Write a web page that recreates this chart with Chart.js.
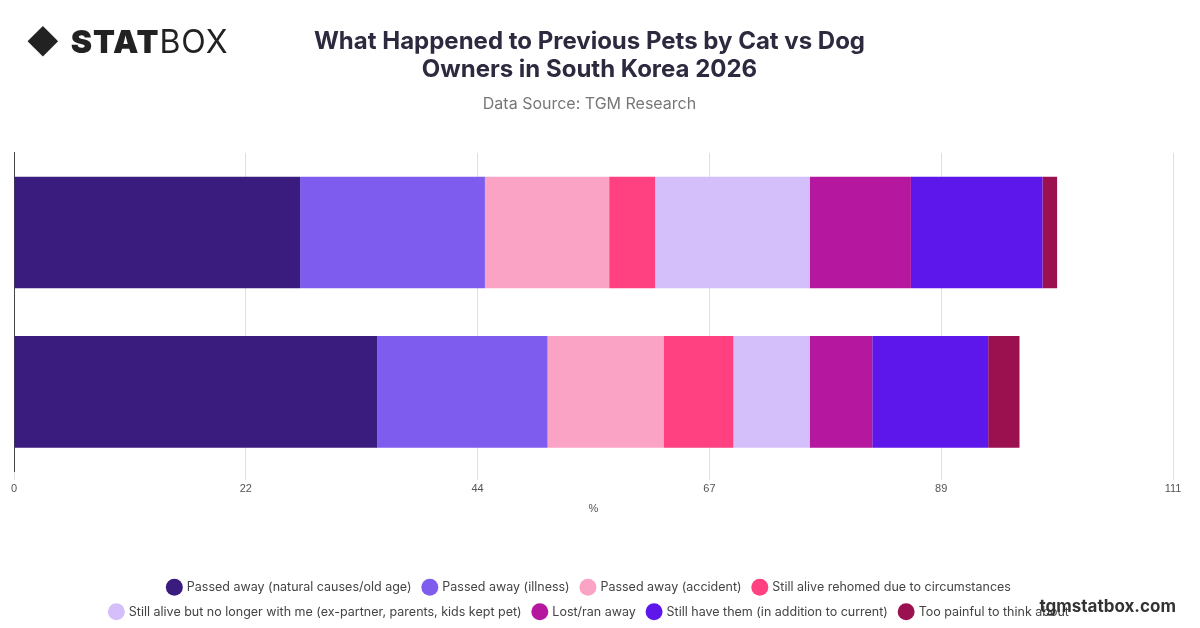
<!DOCTYPE html>
<html>
<head>
<meta charset="utf-8">
<script src="https://cdn.jsdelivr.net/npm/chart.js@4"></script>
<style>
  body { margin: 0; background: #fff; font-family: Inter, "Noto Sans", sans-serif; }
  #wrap { position: relative; width: 1200px; height: 628px; }
  #logo { position: absolute; left: 26px; top: 22px; font-size: 32px; color: #222; letter-spacing: 1px; }
  #logo b { font-weight: 900; }
  #mark { position: absolute; right: 24px; top: 596px; font-size: 17px; font-weight: 700; color: #333; }
</style>
</head>
<body>
<div id="wrap">
  <canvas id="chart" width="1200" height="628"></canvas>
  <div id="logo">&#9670; <b>STAT</b>BOX</div>
  <div id="mark">tgmstatbox.com</div>
</div>
<script>
const categories = ["Cat Owners", "Dog Owners"];
const seriesNames = [
  "Passed away (natural causes/old age)",
  "Passed away (illness)",
  "Passed away (accident)",
  "Still alive rehomed due to circumstances",
  "Still alive but no longer with me (ex-partner, parents, kids kept pet)",
  "Lost/ran away",
  "Still have them (in addition to current)",
  "Too painful to think about"
];
const catValues = [27.4, 17.7, 11.9, 4.4, 14.8, 9.7, 12.6, 1.4];
const dogValues = [34.8, 16.3, 11.1, 6.7, 7.3, 6.0, 11.1, 3.0];
const colors = ["#3a1c7e", "#7e5ced", "#fba3c4", "#ff4081", "#d4bffb", "#b5179e", "#5e17eb", "#9b1150"];
const tickLabels = ["0", "22", "44", "67", "89", "111"];

const datasets = seriesNames.map((name, i) => ({
  label: name,
  data: [catValues[i], dogValues[i]],
  backgroundColor: colors[i],
  borderWidth: 0
}));

new Chart(document.getElementById("chart"), {
  type: "bar",
  data: { labels: categories, datasets: datasets },
  options: {
    indexAxis: "y",
    responsive: false,
    animation: false,
    layout: { padding: { left: 6, right: 27, top: 10, bottom: 0 } },
    datasets: { bar: { barPercentage: 0.7, categoryPercentage: 1 } },
    plugins: {
      title: {
        display: true,
        text: ["What Happened to Previous Pets by Cat vs Dog", "Owners in South Korea 2026"],
        color: "#2d2a40",
        font: { size: 24, weight: "bold", family: "Inter" },
        padding: { top: 17, bottom: 10 }
      },
      subtitle: {
        display: true,
        text: "Data Source: TGM Research",
        color: "#777",
        font: { size: 16, family: "Inter" },
        padding: { bottom: 39 }
      },
      legend: {
        position: "bottom",
        labels: {
          usePointStyle: true,
          pointStyle: "circle",
          boxWidth: 14,
          boxHeight: 12,
          padding: 12,
          color: "#444",
          font: { size: 12.5, family: "Inter" }
        }
      },
      tooltip: { enabled: false }
    },
    scales: {
      x: {
        stacked: true,
        min: 0,
        max: 111,
        ticks: {
          stepSize: 22.2,
          color: "#555",
          font: { size: 11 },
          callback: (v, i) => tickLabels[i]
        },
        grid: { color: "#e0e0e0", drawTicks: true },
        border: { display: false },
        title: { display: true, text: "%", color: "#555", font: { size: 11 }, padding: { top: 4, bottom: 53 } }
      },
      y: {
        stacked: true,
        ticks: { display: false },
        grid: { display: false },
        border: { display: true, color: "#444" }
      }
    }
  }
});
</script>
</body>
</html>
